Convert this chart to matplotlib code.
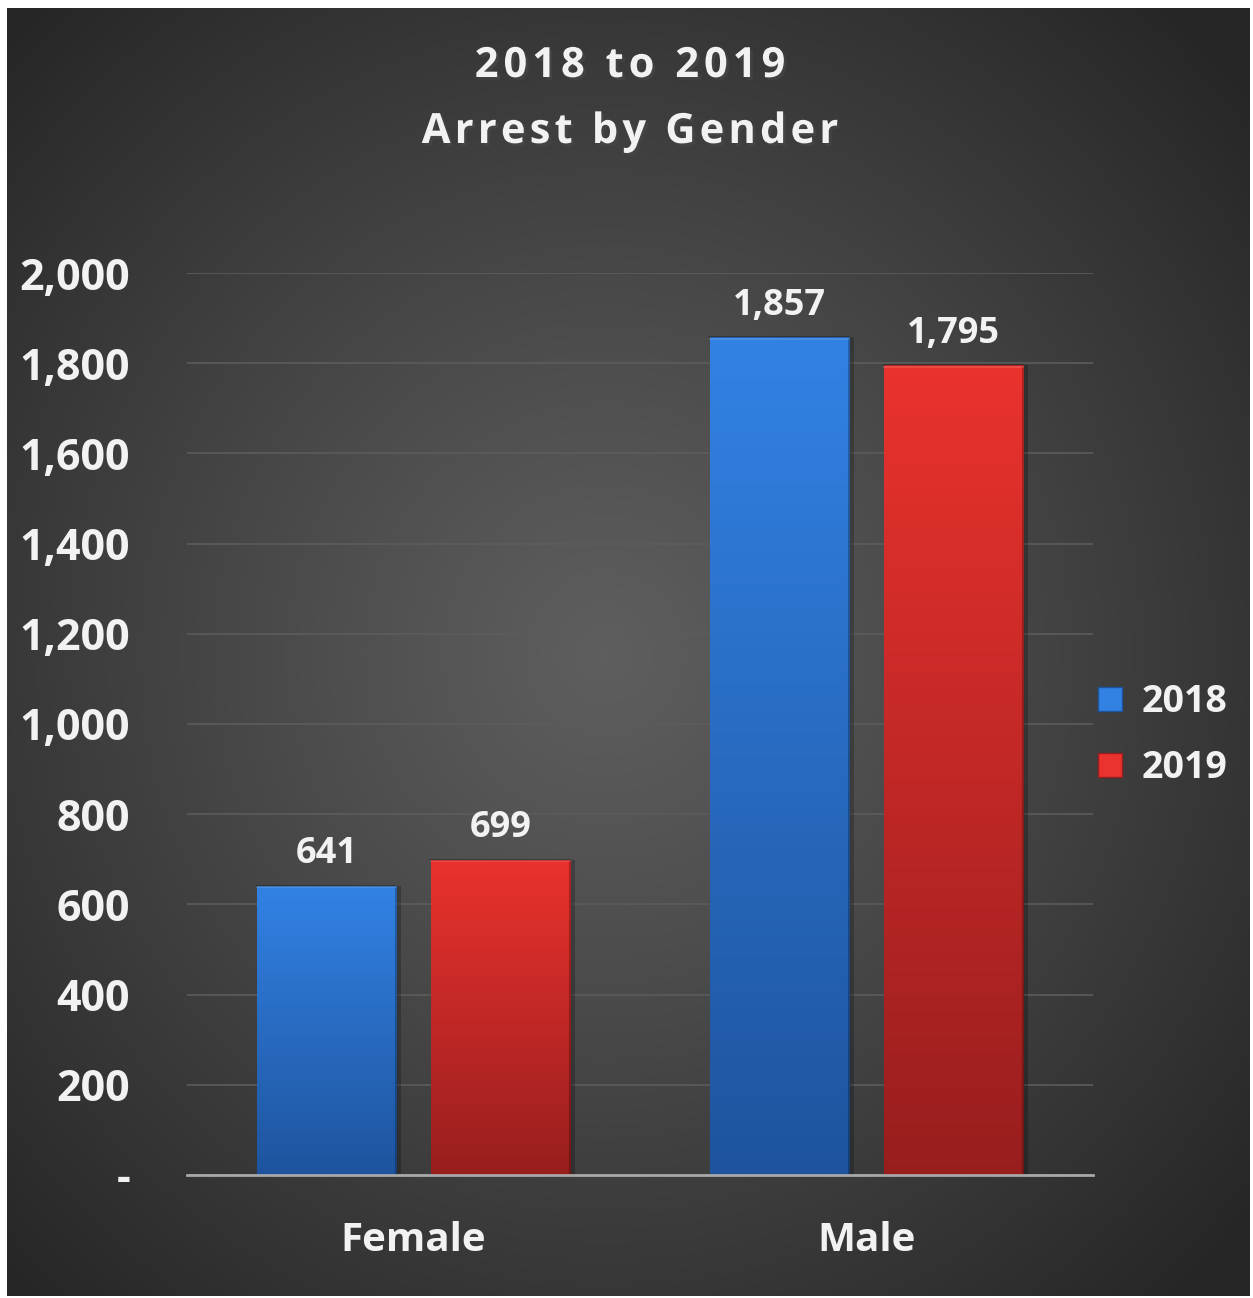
import matplotlib
matplotlib.use("Agg")
import matplotlib.pyplot as plt
import matplotlib.patheffects as pe
from matplotlib.lines import Line2D
from matplotlib.font_manager import FontProperties, findfont
from matplotlib.ft2font import FT2Font
import numpy as np

# Data
categories = ["Female", "Male"]
years = ["2018", "2019"]
arrests_2018 = [641, 1857]
arrests_2019 = [699, 1795]
y_ticks = [0, 200, 400, 600, 800, 1000, 1200, 1400, 1600, 1800, 2000]
y_tick_labels = ["-", "200", "400", "600", "800", "1,000", "1,200", "1,400",
                 "1,600", "1,800", "2,000"]
title_lines = ["2018 to 2019", "Arrest by Gender"]

# Style
W, H, DPI = 1253, 1298, 100
FONT = ["Open Sans", "DejaVu Sans"]
TEXT_COLOR = "#f2f2f2"
BLUE_TOP, BLUE_BOTTOM = np.array([50, 130, 228]) / 255, np.array([30, 84, 158]) / 255
RED_TOP, RED_BOTTOM = np.array([234, 50, 46]) / 255, np.array([152, 30, 30]) / 255
BAR_WIDTH = 0.307
OFFSET = 0.192

plt.rcParams["font.family"] = FONT
plt.rcParams["font.weight"] = "bold"

fig = plt.figure(figsize=(W / DPI, H / DPI), dpi=DPI, facecolor="white")

# dark radial background panel
bg = fig.add_axes([7 / W, 2 / H, 1243 / W, 1288 / H])
bg.set_axis_off()
ny, nx = 400, 400
yy, xx = np.mgrid[0:ny, 0:nx]
r = np.sqrt(((xx - nx * 0.48) / nx) ** 2 + ((yy - ny * 0.5) / ny) ** 2) / 0.68
r = np.clip(r, 0, 1)
light, dark = 0.37, 0.15
shade = light - (light - dark) * r ** 1.1
img = np.dstack([shade, shade, shade])
bg.imshow(img, aspect="auto", extent=[0, 1, 0, 1], interpolation="bilinear")

ax = fig.add_axes([187 / W, 123 / H, 906 / W, 902 / H])
ax.patch.set_alpha(0)

x = np.arange(len(categories))


def gradient_bars(xpos, values, top, bottom, label):
    bars = ax.bar(xpos, values, BAR_WIDTH, color=top, label=label, zorder=3,
                  linewidth=0)
    for b in bars:
        x0, y0 = b.get_x(), b.get_y()
        w, h = b.get_width(), b.get_height()
        # soft shadow on the right
        ax.bar(x0 + w / 2 + 0.010, h, w, bottom=0, color="black", alpha=0.22,
               zorder=2, linewidth=0)
        t = np.linspace(0, 1, 256)[:, None]
        grad = top[None, :] * (1 - t[..., None]) + bottom[None, :] * t[..., None]
        grad = np.repeat(grad, 2, axis=1)
        im = ax.imshow(grad, extent=[x0, x0 + w, y0, y0 + h], aspect="auto",
                       zorder=4, interpolation="bilinear")
        im.set_clip_path(b)
        # bevel edges
        ax.plot([x0, x0 + w, x0 + w], [h, h, 0], color="black", alpha=0.25,
                lw=1.5, zorder=5)
        ax.plot([x0, x0 + w], [h - 3, h - 3], color="white", alpha=0.12,
                lw=1.5, zorder=5)
        ax.text(x0 + w / 2, h + 30, f"{h:,.0f}", ha="center", va="bottom",
                fontsize=26, color=TEXT_COLOR, fontweight="bold", zorder=6)
    return bars


gradient_bars(x - OFFSET, arrests_2018, BLUE_TOP, BLUE_BOTTOM, years[0])
gradient_bars(x + OFFSET, arrests_2019, RED_TOP, RED_BOTTOM, years[1])
ax.set_xlim(-0.5, 1.5)
ax.set_ylim(0, 2000)

ax.set_yticks(y_ticks)
ax.set_yticklabels(y_tick_labels)
ax.set_xticks(x)
ax.set_xticklabels(categories)
ax.tick_params(axis="y", length=0, pad=41, labelsize=31, labelcolor=TEXT_COLOR)
ax.tick_params(axis="x", length=0, pad=33, labelsize=29, labelcolor=TEXT_COLOR)
for lbl in ax.get_xticklabels() + ax.get_yticklabels():
    lbl.set_fontweight("bold")

ax.grid(axis="y", color="#5c5c5c", lw=1.2, zorder=0)
ax.set_axisbelow(True)
for side in ["top", "right", "left"]:
    ax.spines[side].set_visible(False)
ax.spines["bottom"].set_color("#a8a8a8")
ax.spines["bottom"].set_linewidth(2)
ax.spines["bottom"].set_zorder(7)

handles = [
    Line2D([], [], marker="s", linestyle="", markersize=17,
           markerfacecolor=BLUE_TOP, markeredgecolor=BLUE_BOTTOM),
    Line2D([], [], marker="s", linestyle="", markersize=17,
           markerfacecolor=RED_TOP, markeredgecolor=RED_BOTTOM),
]
leg = fig.legend(handles, years, loc="center left",
                 bbox_to_anchor=(1091 / W, 1 - 735 / H), frameon=False,
                 labelcolor=TEXT_COLOR, handlelength=1.0, handletextpad=0.36,
                 borderpad=0, borderaxespad=0, labelspacing=0.76,
                 prop={"family": FONT, "weight": "bold", "size": 27})


def tracked_text(text, cx, baseline, size, tracking):
    """Draw text centred at pixel cx on a baseline, with extra letter spacing (px)."""
    fp = FontProperties(family=FONT, weight="bold", size=size)
    font = FT2Font(findfont(fp))
    font.set_size(size, DPI)
    adv = [font.load_char(ord(c)).linearHoriAdvance / 65536 for c in text]
    total = sum(adv) + tracking * (len(text) - 1)
    xpos = cx - total / 2
    fx = [pe.withSimplePatchShadow(offset=(2, -2), alpha=0.6)]
    for c, a in zip(text, adv):
        if c != " ":
            fig.text(xpos / W, 1 - baseline / H, c, ha="left", va="baseline",
                     fontproperties=fp, color=TEXT_COLOR, path_effects=fx)
        xpos += a + tracking


tracked_text(title_lines[0], 630, 77, 30, 5.0)
tracked_text(title_lines[1], 630, 143, 30, 4.2)

fig.savefig("out.png", dpi=DPI, facecolor="white")
